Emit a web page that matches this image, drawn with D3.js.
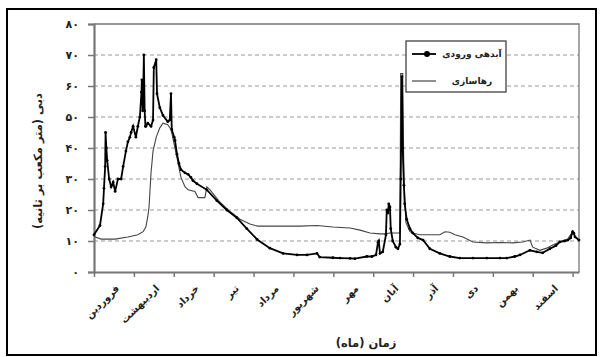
<!DOCTYPE html>
<html><head><meta charset="utf-8">
<script src="https://cdn.jsdelivr.net/npm/d3@7"></script>
<style>
html,body{margin:0;padding:0;background:#fff;}
svg{display:block;}
text{font-family:"DejaVu Sans",sans-serif;}
</style></head>
<body><svg id="c" width="603" height="357"></svg>
<script>
// Months (Persian calendar)
const months = ["فروردین","اردیبهشت","خرداد","تیر","مرداد","شهریور","مهر","آبان","آذر","دی","بهمن","اسفند"];
const yTicks = [0,10,20,30,40,50,60,70,80];
const seriesNames = ["آبدهی ورودی","رهاسازی"];
const yTitle = "دبی (متر مکعب بر ثانیه)";
const xTitle = "زمان (ماه)";

// Inflow: [month position, m3/s]
const inflowT = [0.00,0.15,0.23,0.25,0.28,0.29,0.31,0.33,0.38,0.43,0.48,0.53,0.60,0.68,0.73,0.80,0.85,0.90,0.93,0.98,1.05,1.10,1.15,1.19,1.20,1.22,1.23,1.25,1.27,1.29,1.30,1.35,1.43,1.48,1.50,1.56,1.58,1.65,1.73,1.85,1.90,1.93,1.95,2.01,2.03,2.08,2.13,2.18,2.28,2.36,2.43,2.48,2.58,2.83,3.08,3.33,3.58,3.83,4.09,4.41,4.74,5.09,5.34,5.59,5.66,5.99,6.17,6.42,6.54,6.84,6.97,7.07,7.12,7.14,7.17,7.24,7.32,7.34,7.37,7.39,7.42,7.44,7.49,7.57,7.62,7.67,7.69,7.72,7.74,7.77,7.79,7.84,7.92,7.99,8.12,8.25,8.42,8.67,8.92,9.17,9.50,9.85,10.18,10.35,10.55,10.68,10.93,11.10,11.25,11.43,11.58,11.68,11.80,11.88,11.95,12.00,12.03,12.06,12.16];
const inflowV = [12,15,22,27,34,45,40,36,30,27.5,29,26,30,30,34,39,42,43.5,45,47,43.5,47,50,58,62,52,55,70,52,47,47,48,47,49,66,68.5,57.5,53,50.5,48.5,49,57.5,46,43.5,42.5,38,35,33,32,31.5,30.5,29.5,28.5,26.5,23,20,17.5,14,10.5,7.7,6,5.5,5.5,6,4.8,4.6,4.5,4.4,4.3,5,5,5.5,9.5,10,6,6.5,12,20,19,22,21,14,10,8,7.5,9,30,63,40,28,22,17,14,12.6,11,10.3,7.5,6,5,4.5,4.5,4.5,4.5,4.5,5,5.5,7,6.5,6.2,7.5,8.5,9.7,10,10.3,11,13,12.5,11.3,10.3];

// Release: [month position, m3/s]
const releaseT = [0.00,0.03,0.18,0.53,0.85,1.10,1.23,1.30,1.35,1.38,1.43,1.48,1.56,1.65,1.73,1.85,1.93,2.03,2.11,2.18,2.28,2.36,2.53,2.61,2.78,2.83,2.91,3.16,3.41,3.66,3.91,4.04,4.11,5.16,5.59,5.99,6.42,6.67,6.92,7.17,7.29,7.42,7.54,7.67,7.69,7.74,7.77,7.82,7.92,7.99,8.17,8.67,8.80,8.92,9.05,9.25,9.50,9.85,10.18,10.50,10.75,10.93,11.00,11.18,11.35,11.50,11.68,11.88,12.00,12.06,12.16];
const releaseV = [11.6,11.3,10.6,10.6,11.3,12,13,14.5,18,21,32,39,43.5,46.5,48,47.5,46,40,35,30.5,27.5,26.5,26,24,24,27.5,26.5,22.5,19.5,17,15.5,15,14.8,14.8,15,14.5,14.2,13.5,12.6,12.3,12.3,12.6,12.6,12.6,64,64,30,16,13,12.6,12,12,13,12.8,12,11.3,9.7,9.4,9.5,9.4,9.7,10.3,8,7,7.7,8.7,9.7,10.6,13,11.5,10.3];

const fa = n => String(n).replace(/\d/g, d => "۰۱۲۳۴۵۶۷۸۹"[+d]);

const svg = d3.select("#c");
const L = 94, R = 579, T = 24, B = 272;
const x = d3.scaleLinear().domain([0, 12.16]).range([L, R]);
const y = d3.scaleLinear().domain([0, 80]).range([B, T]);

// outer frame
svg.append("rect").attr("x",7).attr("y",9).attr("width",589).attr("height",346)
  .attr("fill","none").attr("stroke","#000").attr("stroke-width",2);

// gridlines
svg.append("g").selectAll("line").data(yTicks.filter(v => v > 0 && v < 80)).join("line")
  .attr("x1",L).attr("x2",R).attr("y1",d=>y(d)).attr("y2",d=>y(d))
  .attr("stroke","#999").attr("stroke-width",1.2).attr("stroke-dasharray","4,3");

// plot border (top/right)
svg.append("path").attr("d",`M${L},${T}H${R}V${B}`).attr("fill","none").attr("stroke","#777").attr("stroke-width",1.3);

// y axis
const ya = svg.append("g").attr("transform",`translate(${L},0)`)
  .call(d3.axisLeft(y).tickValues(yTicks).tickFormat(fa).tickSize(6).tickPadding(9));
ya.select(".domain").attr("stroke","#777").attr("stroke-width",2.2);
ya.selectAll(".tick line").attr("stroke","#777").attr("stroke-width",1.5);
ya.selectAll(".tick text").attr("font-size",11).attr("font-weight","bold").attr("fill","#222");

// x axis
const xa = svg.append("g").attr("transform",`translate(0,${B})`)
  .call(d3.axisBottom(x).tickValues(d3.range(0,13)).tickFormat("").tickSize(5).tickSizeOuter(0));
xa.select(".domain").attr("stroke","#777").attr("stroke-width",2.2);
xa.selectAll(".tick line").attr("stroke","#777").attr("stroke-width",1.5);

// month labels
svg.append("g").selectAll("text").data(months).join("text")
  .attr("transform",(d,i)=>`translate(${x(i+0.5)+6},${B+17}) rotate(-45)`)
  .attr("text-anchor","end").attr("font-size",10).attr("font-weight","bold").attr("fill","#222")
  .text(d=>d);

// titles
svg.append("text").attr("transform","translate(42,161) rotate(-90)").attr("text-anchor","middle")
  .attr("font-size",11.5).attr("font-weight","bold").attr("fill","#222").text(yTitle);
svg.append("text").attr("x",366).attr("y",347).attr("text-anchor","middle")
  .attr("font-size",11.5).attr("font-weight","bold").attr("fill","#222").text(xTitle);

// lines
const line = d3.line().x(d=>x(d[0])).y(d=>y(d[1]));
const inflow = inflowT.map((t,i)=>[t, inflowV[i]]);
const release = releaseT.map((t,i)=>[t, releaseV[i]]);

svg.append("path").datum(release).attr("d",line).attr("fill","none")
  .attr("stroke","#444").attr("stroke-width",1.1);
svg.append("path").datum(inflow).attr("d",line).attr("fill","none")
  .attr("stroke","#000").attr("stroke-width",1.8);
svg.append("g").selectAll("circle").data(inflow).join("circle")
  .attr("cx",d=>x(d[0])).attr("cy",d=>y(d[1])).attr("r",1.4).attr("fill","#000");

// legend
const lg = svg.append("g");
lg.append("rect").attr("x",406).attr("y",41).attr("width",100).attr("height",51)
  .attr("fill","#fff").attr("stroke","#333").attr("stroke-width",1.2);
lg.append("line").attr("x1",412).attr("x2",436).attr("y1",54).attr("y2",54).attr("stroke","#000").attr("stroke-width",1.8);
lg.append("circle").attr("cx",427).attr("cy",54).attr("r",3).attr("fill","#000");
lg.append("line").attr("x1",412).attr("x2",436).attr("y1",81).attr("y2",81).attr("stroke","#444").attr("stroke-width",1.2);
lg.selectAll("text.l").data(seriesNames).join("text").attr("class","l")
  .attr("x",472).attr("y",(d,i)=>i?84:57).attr("text-anchor","middle")
  .attr("font-size",9).attr("font-weight","bold").attr("fill","#222").text(d=>d);
</script></body></html>
